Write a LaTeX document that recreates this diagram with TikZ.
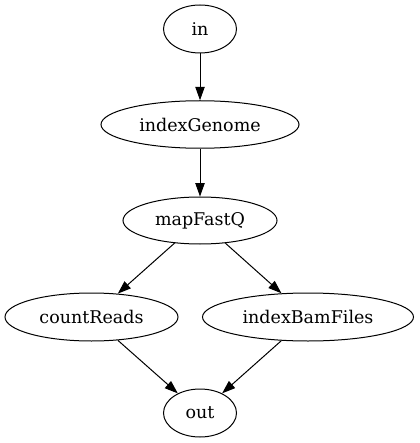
\documentclass[tikz,border=0pt]{standalone}
\usepackage{fontspec}
\setmainfont{DejaVu Serif}
\usetikzlibrary{shapes.geometric,arrows.meta}
\begin{document}
\begin{tikzpicture}[x=1pt,y=-1pt,
  gnode/.style={ellipse,draw,line width=1pt,inner sep=0pt,font=\fontsize{17.5}{21}\selectfont},
  gedge/.style={draw,line width=1pt,-{Triangle[length=13.3pt,width=9.3pt]}}]
\useasboundingbox (0,0) rectangle (419,443);
\node[gnode,minimum width=73pt,minimum height=48pt] (in) at (200,29) {in};
\node[gnode,minimum width=198pt,minimum height=47.5pt] (indexGenome) at (200,124.5) {indexGenome};
\node[gnode,minimum width=154pt,minimum height=47pt] (mapFastQ) at (200,220.5) {mapFastQ};
\node[gnode,minimum width=173pt,minimum height=48pt] (countReads) at (91.5,317) {countReads};
\node[gnode,minimum width=211pt,minimum height=48pt] (indexBamFiles) at (308,317) {indexBamFiles};
\node[gnode,minimum width=73pt,minimum height=48pt] (out) at (200,413) {out};
\path[gedge] (in) -- (indexGenome);
\path[gedge] (indexGenome) -- (mapFastQ);
\path[gedge] (mapFastQ) -- (countReads);
\path[gedge] (mapFastQ) -- (indexBamFiles);
\path[gedge] (countReads) -- (out);
\path[gedge] (indexBamFiles) -- (out);
\end{tikzpicture}
\end{document}
